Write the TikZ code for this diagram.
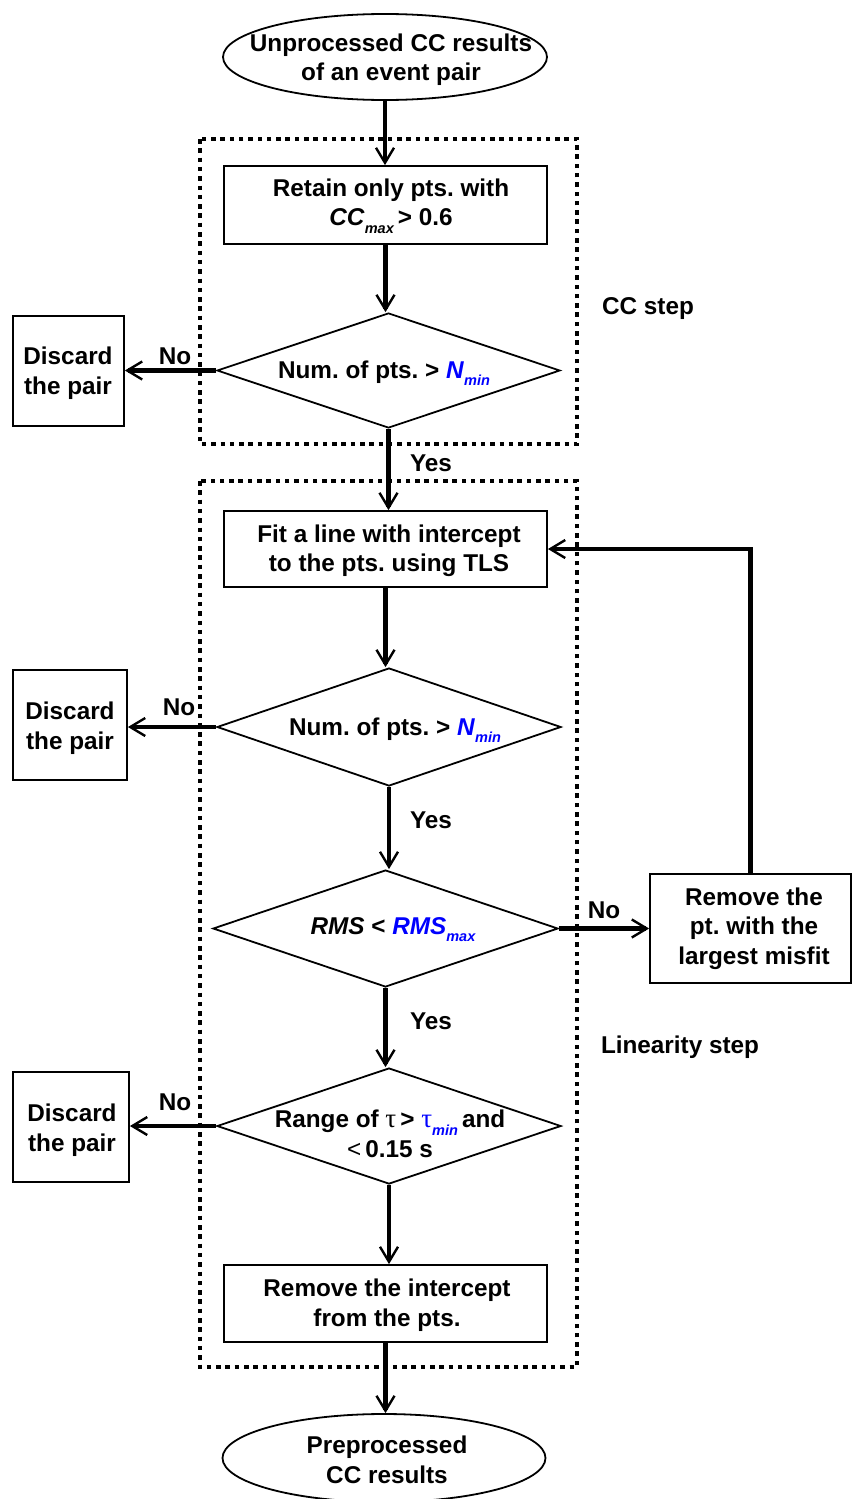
\documentclass[tikz,border=0pt]{standalone}
\usepackage{fontspec}
\setmainfont{Liberation Sans}
\newfontfamily\serifgr{Liberation Serif}
\usetikzlibrary{shapes.geometric,arrows.meta}
\definecolor{vblue}{RGB}{0,0,255}
\newcommand{\lowsub}[1]{\raisebox{-0.55ex}{\fontsize{14.5}{14.5}\selectfont\itshape #1}}
\newcommand{\tausym}{{\serifgr\mdseries\fontsize{27}{29}\selectfont τ}}
\begin{document}
\frenchspacing
\begin{tikzpicture}[x=1pt,y=-1pt,
  every node/.style={font=\fontsize{24.3}{29.5}\selectfont\bfseries\frenchspacing},
  txt/.style={align=center, inner sep=0pt},
  box/.style={draw, line width=1.8pt, rectangle, inner sep=0pt},
  oval/.style={draw, line width=1.8pt, ellipse, inner sep=0pt},
  dia/.style={draw, line width=1.8pt, diamond, inner sep=0pt},
  frame/.style={line width=4.8pt, dash pattern=on 4.5pt off 4.8pt},
  arr/.style={line width=4.3pt, -{Straight Barb[length=15pt,width=18pt,line width=2.4pt]}},
  lbl/.style={inner sep=0pt}
]
\useasboundingbox (0,0) rectangle (852,1499);

% dotted frames
\draw[frame] (200,139) rectangle (577,444);
\draw[frame] (200,481) rectangle (577,1367);

% start / end
\node[oval, minimum width=324pt, minimum height=86pt] (start) at (385,57) {};
\node[txt] (starttxt) at (391,59.5) {Unprocessed CC results\\of an event pair};

\node[oval, minimum width=323pt, minimum height=88pt] (finish) at (384,1458) {};
\node[txt] (finishtxt) at (387,1460) {Preprocessed\\CC results};

% boxes
\node[box, minimum width=323pt, minimum height=78pt] (retain) at (385.5,205) {};
\node[txt] (retaintxt) at (391,206) {Retain only pts. with\\\textit{CC}\lowsub{max}\,> 0.6};

\node[box, minimum width=323pt, minimum height=76pt] (fit) at (385.5,549) {};
\node[txt] (fittxt) at (389,551) {Fit a line with intercept\\to the pts. using TLS};

\node[box, minimum width=323pt, minimum height=77pt] (remint) at (385.5,1303.5) {};
\node[txt] (reminttxt) at (387,1305) {Remove the intercept\\from the pts.};

\node[box, minimum width=201pt, minimum height=109pt] (rmpt) at (750.5,928.5) {};
\node[txt] (rmpttxt) at (754,928.5) {Remove the\\pt. with the\\largest misfit};

% discard boxes
\node[box, minimum width=111pt, minimum height=110pt] (disc1) at (68.5,371) {};
\node[txt] (disc1txt) at (68,373) {Discard\\the pair};
\node[box, minimum width=114pt, minimum height=110pt] (disc2) at (70,725) {};
\node[txt] (disc2txt) at (70,728) {Discard\\the pair};
\node[box, minimum width=116pt, minimum height=110pt] (disc3) at (71,1127) {};
\node[txt] (disc3txt) at (72,1130) {Discard\\the pair};

% diamonds
\node[dia, minimum width=343pt, minimum height=115pt] (d1) at (388.5,370.5) {};
\node[txt] (d1txt) at (384,373) {Num. of pts. > {\color{vblue}\textit{N}\lowsub{min}}};

\node[dia, minimum width=344pt, minimum height=118pt] (d2) at (389,727) {};
\node[txt] (d2txt) at (395,730) {Num. of pts. > {\color{vblue}\textit{N}\lowsub{min}}};

\node[dia, minimum width=345pt, minimum height=117pt] (d3) at (385.5,928.5) {};
\node[txt] (d3txt) at (393,930) {\textit{RMS} < {\color{vblue}\textit{RMS}\lowsub{max}}};

\node[dia, minimum width=344pt, minimum height=116pt] (d4) at (389,1126) {};
\node[txt] (d4txt) at (390,1134) {Range of \tausym\,> {\color{vblue}\tausym\lowsub{min}}\,and\\{\mdseries<}\,0.15 s};

% side labels
\node[lbl] (ccstep) at (648,309) {CC step};
\node[lbl] (linstep) at (680,1047) {Linearity step};

% connectors
\draw[arr] (start.south) -- (start.south |- retain.north);
\draw[arr] (retain.south) -- (retain.south |- d1.north);
\draw[arr] (d1.south) -- (d1.south |- fit.north);
\draw[arr] (fit.south) -- (fit.south |- d2.north);
\draw[arr] (d2.south) -- (d2.south |- d3.north);
\draw[arr] (d3.south) -- (d3.south |- d4.north);
\draw[arr] (d4.south) -- (d4.south |- remint.north);
\draw[arr] (remint.south) -- (remint.south |- finish.north);

\draw[arr] (d1.west) -- (d1.west -| disc1.east);
\draw[arr] (d2.west) -- (d2.west -| disc2.east);
\draw[arr] (d4.west) -- (d4.west -| disc3.east);
\draw[arr] (d3.east) -- (d3.east -| rmpt.west);
\draw[arr] (rmpt.north) |- (fit.east);

% yes/no labels
\node[lbl] (no1) at (175,356) {No};
\node[lbl] (no2) at (179,707) {No};
\node[lbl] (no3) at (175,1102) {No};
\node[lbl] (no4) at (604,910) {No};
\node[lbl] (yes1) at (431,463) {Yes};
\node[lbl] (yes2) at (431,820) {Yes};
\node[lbl] (yes3) at (431,1021) {Yes};
\end{tikzpicture}
\end{document}
